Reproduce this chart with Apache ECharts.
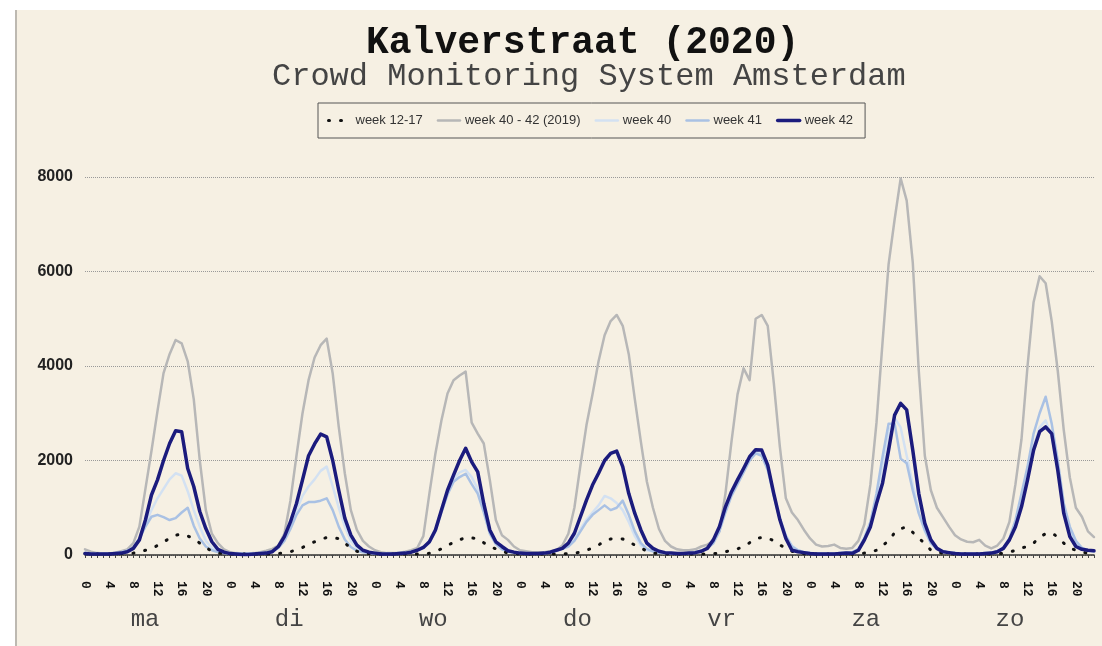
<!DOCTYPE html>
<html>
<head>
<meta charset="utf-8">
<script src="https://cdn.jsdelivr.net/npm/echarts@6/dist/echarts.min.js"></script>
<style>
html,body{margin:0;padding:0;background:#ffffff;}
#wrap{position:relative;width:1102px;height:646px;overflow:hidden;}
#bg{position:absolute;left:15px;top:10px;right:0;bottom:0;background:#f6f0e3;border-left:2px solid #bdb9b1;}
#chart{position:absolute;left:0;top:0;width:1102px;height:646px;}
</style>
</head>
<body>
<div id="wrap"><div id="bg"></div><div id="chart"></div></div>
<script>
// ---- data (hourly, one row per day: ma..zo) ----
const days = ['ma', 'di', 'wo', 'do', 'vr', 'za', 'zo'];
const dayHours = ['0','1','2','3','4','5','6','7','8','9','10','11','12','13','14','15','16','17','18','19','20','21','22','23'];
const seriesNames = ['week 12-17', 'week 40 - 42 (2019)', 'week 40', 'week 41', 'week 42'];

const week1217 = [
  [30, 20, 20, 20, 20, 20, 30, 30, 40, 60, 100, 140, 200, 280, 350, 420, 440, 400, 350, 250, 160, 80, 40, 30],
  [20, 20, 20, 20, 20, 20, 20, 20, 30, 50, 70, 110, 160, 220, 280, 330, 370, 360, 350, 250, 150, 80, 40, 30],
  [20, 20, 20, 20, 20, 20, 20, 20, 25, 35, 80, 130, 200, 270, 320, 370, 360, 350, 260, 180, 130, 80, 40, 30],
  [20, 20, 20, 20, 20, 20, 20, 20, 30, 40, 60, 100, 150, 210, 300, 340, 345, 340, 280, 210, 150, 80, 40, 30],
  [20, 20, 20, 20, 20, 20, 20, 20, 30, 40, 70, 100, 130, 180, 260, 350, 370, 360, 300, 210, 150, 80, 40, 30],
  [20, 20, 20, 20, 20, 20, 20, 20, 30, 40, 60, 100, 200, 300, 470, 560, 590, 480, 350, 250, 100, 60, 40, 30],
  [20, 20, 20, 20, 20, 20, 20, 20, 40, 60, 100, 150, 180, 250, 380, 450, 470, 380, 250, 150, 100, 60, 40, 30]
];
const week2019 = [
  [120, 70, 40, 30, 30, 50, 80, 120, 250, 600, 1400, 2200, 3050, 3850, 4250, 4550, 4480, 4100, 3300, 2000, 950, 450, 250, 120],
  [60, 40, 30, 30, 40, 60, 90, 130, 200, 450, 1150, 2100, 3000, 3700, 4180, 4440, 4580, 3840, 2710, 1730, 950, 530, 300, 180],
  [100, 60, 40, 40, 50, 70, 100, 150, 400, 1300, 2150, 2850, 3420, 3700, 3800, 3880, 2800, 2570, 2360, 1590, 740, 420, 320, 180],
  [100, 80, 60, 60, 60, 80, 100, 200, 450, 1000, 1900, 2750, 3400, 4100, 4650, 4950, 5080, 4850, 4250, 3300, 2400, 1550, 1000, 550],
  [300, 180, 120, 100, 100, 120, 180, 220, 300, 500, 1300, 2400, 3400, 3950, 3700, 5000, 5080, 4850, 3650, 2300, 1200, 900, 740, 530],
  [350, 220, 180, 190, 220, 150, 130, 150, 300, 650, 1500, 2800, 4500, 6150, 7100, 7970, 7500, 6200, 3900, 2100, 1370, 1000, 800, 600],
  [420, 330, 280, 270, 320, 200, 140, 200, 350, 700, 1500, 2450, 4000, 5350, 5900, 5750, 4950, 3900, 2640, 1640, 1000, 810, 500, 380]
];
const week40 = [
  [40, 30, 30, 30, 30, 40, 60, 90, 150, 350, 650, 950, 1200, 1400, 1600, 1730, 1680, 1350, 950, 600, 300, 150, 80, 50],
  [30, 30, 30, 30, 30, 40, 50, 80, 150, 320, 600, 950, 1250, 1450, 1600, 1780, 1870, 1450, 1000, 600, 300, 150, 80, 50],
  [40, 30, 30, 30, 40, 50, 70, 100, 160, 300, 550, 950, 1300, 1600, 1750, 1800, 1650, 1400, 950, 500, 250, 130, 80, 50],
  [40, 30, 30, 30, 40, 60, 90, 130, 200, 320, 550, 750, 900, 1050, 1250, 1200, 1100, 950, 700, 400, 200, 100, 80, 50],
  [40, 30, 30, 30, 40, 60, 90, 150, 300, 550, 950, 1300, 1600, 1800, 2050, 2200, 2150, 1850, 1300, 800, 420, 200, 100, 60],
  [40, 30, 30, 30, 30, 40, 50, 60, 130, 380, 700, 1200, 1900, 2600, 2900, 2700, 2100, 1500, 900, 500, 250, 130, 80, 50],
  [40, 30, 30, 30, 30, 40, 50, 80, 150, 350, 650, 1100, 1700, 2300, 2700, 2850, 2500, 1800, 1000, 500, 250, 130, 90, 70]
];
const week41 = [
  [40, 30, 30, 30, 30, 40, 60, 90, 150, 350, 600, 810, 850, 800, 740, 780, 900, 1000, 620, 350, 180, 100, 60, 40],
  [30, 30, 30, 30, 30, 40, 50, 80, 150, 300, 550, 850, 1050, 1120, 1120, 1150, 1200, 950, 600, 330, 170, 90, 60, 40],
  [30, 30, 30, 30, 40, 50, 70, 100, 150, 260, 500, 900, 1280, 1550, 1650, 1720, 1500, 1300, 900, 450, 230, 120, 70, 50],
  [40, 30, 30, 30, 40, 60, 90, 130, 180, 300, 500, 700, 850, 950, 1050, 950, 1000, 1150, 850, 500, 250, 130, 80, 50],
  [40, 30, 30, 30, 40, 60, 90, 140, 250, 500, 900, 1250, 1500, 1750, 2000, 2150, 2100, 1800, 1250, 750, 400, 180, 100, 60],
  [40, 30, 30, 30, 30, 40, 50, 60, 120, 350, 700, 1300, 2080, 2780, 2780, 2040, 1940, 1370, 880, 530, 250, 130, 80, 50],
  [40, 30, 30, 30, 30, 40, 50, 80, 150, 350, 740, 1300, 1870, 2570, 3000, 3350, 2780, 2000, 1090, 600, 300, 150, 100, 80]
];
const week42 = [
  [30, 20, 20, 20, 20, 30, 40, 70, 140, 320, 740, 1270, 1590, 2000, 2360, 2630, 2610, 1830, 1450, 920, 560, 280, 120, 60],
  [30, 20, 10, 10, 20, 30, 40, 70, 180, 390, 700, 1090, 1590, 2100, 2350, 2560, 2500, 2000, 1370, 780, 420, 210, 100, 60],
  [40, 20, 20, 20, 30, 40, 60, 100, 160, 280, 530, 950, 1370, 1690, 2000, 2260, 1970, 1760, 1090, 530, 280, 180, 90, 60],
  [40, 30, 30, 30, 40, 60, 100, 140, 250, 460, 810, 1160, 1480, 1730, 2000, 2150, 2200, 1870, 1300, 880, 530, 250, 140, 80],
  [50, 40, 30, 30, 40, 50, 80, 140, 320, 600, 1020, 1340, 1590, 1830, 2080, 2230, 2220, 1900, 1300, 750, 350, 100, 70, 50],
  [30, 20, 20, 20, 20, 30, 40, 35, 100, 320, 600, 1090, 1520, 2220, 2960, 3210, 3070, 2220, 1300, 670, 320, 140, 70, 50],
  [30, 20, 20, 20, 20, 30, 40, 70, 140, 320, 600, 1020, 1590, 2220, 2610, 2710, 2570, 1800, 880, 390, 180, 120, 100, 90]
];

// ---- chart ----
const hourCategories = days.flatMap(() => dayHours);
const chart = echarts.init(document.getElementById('chart'), null, {width: 1102, height: 646, renderer: 'canvas'});

const mono = "'Liberation Mono', 'Courier New', monospace";
const sans = "'Liberation Sans', Arial, sans-serif";

const styles = [
  {color: '#111111', width: 3, type: [1, 11], z: 4},
  {color: '#b7b7b7', width: 2.5, type: 'solid', z: 2},
  {color: '#d3e1f2', width: 2.5, type: 'solid', z: 3},
  {color: '#a9c1e4', width: 2.5, type: 'solid', z: 3},
  {color: '#1b1b7d', width: 3.5, type: 'solid', z: 5}
];
const seriesData = [week1217, week2019, week40, week41, week42];

chart.setOption({
  backgroundColor: 'transparent',
  animation: false,
  title: [
    {text: 'Kalverstraat (2020)', left: 366, top: 24, padding: 0,
     textStyle: {fontFamily: mono, fontWeight: 'bold', fontSize: 38, color: '#111'}},
    {text: 'Crowd Monitoring System Amsterdam', left: 272, top: 61, padding: 0,
     textStyle: {fontFamily: mono, fontWeight: 'normal', fontSize: 32, color: '#444'}}
  ],
  legend: {
    data: seriesNames.map((n, i) => ({
      name: n,
      itemStyle: {color: 'rgba(0,0,0,0)', borderWidth: 0, opacity: 0},
      lineStyle: {color: styles[i].color, width: styles[i].width, type: styles[i].type, cap: 'round'}
    })),
    left: 318, top: 103, orient: 'horizontal',
    padding: [11, 12, 11, 9], itemGap: 14, itemWidth: 22, itemHeight: 10,
    borderColor: '#555', borderWidth: 1, backgroundColor: 'transparent',
    textStyle: {fontFamily: sans, fontSize: 13, color: '#333'}
  },
  grid: {left: 85, right: 8, top: 177, bottom: 91, containLabel: false, outerBoundsMode: 'none'},
  xAxis: [
    {
      type: 'category', data: hourCategories, boundaryGap: false, position: 'bottom', offset: 19,
      axisLine: {show: true, lineStyle: {color: '#333', width: 1.5}},
      axisTick: {show: true, interval: 0, length: 3, lineStyle: {color: '#444', width: 1}},
      axisLabel: {interval: 3, rotate: -90, margin: 7, fontFamily: mono, fontWeight: 'bold',
                  fontSize: 13, color: '#111', padding: [22, 0, 0, 0]},
      splitLine: {show: false}
    },
    {
      type: 'category', data: days, boundaryGap: true, position: 'bottom', offset: 19,
      axisLine: {show: false}, axisTick: {show: false},
      axisLabel: {margin: 34, fontFamily: mono, fontSize: 24, color: '#444', padding: [0, 24, 0, 0]},
      splitLine: {show: false}
    }
  ],
  yAxis: {
    type: 'value', min: 0, max: 8000, interval: 2000,
    axisLine: {show: false}, axisTick: {show: false},
    axisLabel: {margin: 12, fontFamily: sans, fontWeight: 'bold', fontSize: 16, color: '#222',
                formatter: v => String(v)},
    splitLine: {show: true, lineStyle: {type: 'dotted', color: '#999', width: 1}}
  },
  series: seriesNames.map((n, i) => ({
    name: n, type: 'line', data: seriesData[i].flat(), symbol: 'none', smooth: false, z: styles[i].z,
    lineStyle: {color: styles[i].color, width: styles[i].width, type: styles[i].type, cap: 'round', join: 'round'},
    itemStyle: {color: styles[i].color},
    emphasis: {disabled: true}
  }))
});
</script>
</body>
</html>
